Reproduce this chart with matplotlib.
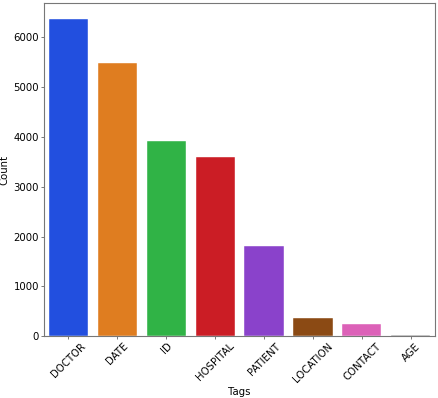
import matplotlib
matplotlib.use('Agg')
import matplotlib.pyplot as plt
import seaborn as sns
import pandas as pd

# Tag counts
tags = ['DOCTOR', 'DATE', 'ID', 'HOSPITAL', 'PATIENT', 'LOCATION', 'CONTACT', 'AGE']
counts = [6365, 5488, 3916, 3594, 1813, 361, 241, 25]

data = pd.DataFrame({'Tags': tags, 'Count': counts})

fig = plt.figure(figsize=(4.39, 3.98), dpi=100)
ax = fig.add_axes([0.1, 0.155, 0.8916, 0.8367])

sns.barplot(data=data, x='Tags', y='Count', hue='Tags', palette='bright',
            legend=False, ax=ax, edgecolor='white', linewidth=0.3)

fs = 7.3
ax.set_xlabel('Tags', fontsize=fs, labelpad=2)
ax.set_ylabel('Count', fontsize=fs, labelpad=3)
ax.tick_params(axis='both', labelsize=fs, colors='#777777', labelcolor='black',
               length=2.5, width=0.7, pad=1)
ax.set_xticks(range(len(tags)))
ax.set_xticklabels(tags, rotation=45)
for s in ax.spines.values():
    s.set_color('#777777')

fig.savefig('out.png', dpi=100)
